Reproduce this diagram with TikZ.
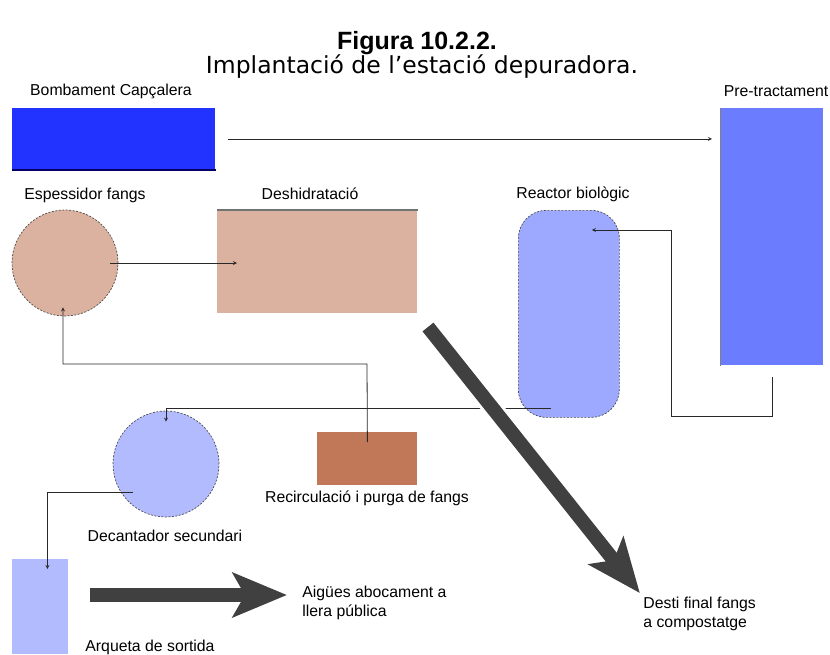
\documentclass[tikz,border=0pt]{standalone}
\usepackage{fontspec}
\setmainfont{Liberation Sans}
\newfontfamily\subtfont{DejaVu Sans}
\usetikzlibrary{arrows.meta}
\definecolor{bombblue}{RGB}{34,51,255}
\definecolor{pretblue}{RGB}{108,124,255}
\definecolor{reacblue}{RGB}{157,169,255}
\definecolor{palblue}{RGB}{179,187,255}
\definecolor{fangtan}{RGB}{219,177,159}
\definecolor{fangbrown}{RGB}{192,120,88}
\definecolor{bigarrow}{RGB}{64,64,64}
\definecolor{pipe}{RGB}{40,40,40}
\begin{document}
\begin{tikzpicture}[x=1pt,y=-1pt,>=stealth,line width=0.8pt,
  lbl/.style={inner sep=0pt,font=\fontsize{15.8}{19}\selectfont},
  tank/.style={inner sep=0pt,draw=none,anchor=north west},
  rim/.style={draw=black!70,dash pattern=on 2pt off 1.5pt,line width=0.7pt},
  pipeline/.style={->,draw=pipe,line width=0.8pt},
  bigflow/.style={draw=bigarrow,line width=14pt,-{Stealth[length=54pt,width=44pt,inset=12pt]}}]
\fill[white] (0,0) rectangle (830,654);
\useasboundingbox (0,0) rectangle (830,654);
% titol
\node[font=\fontsize{25}{30}\selectfont\bfseries,anchor=base] (title) at (417,49) {Figura 10.2.2.};
\node[font=\subtfont\fontsize{23.5}{28}\selectfont,anchor=base] (subtitle) at (422,73) {Implantació de l’estació depuradora.};
% unitats
\node[tank,fill=bombblue,minimum width=203pt,minimum height=61pt] (bomb) at (12,108) {};
\draw[blue!40!black,line width=1.5pt] (bomb.south west) -- (bomb.south east);
\node[tank,fill=pretblue,minimum width=103pt,minimum height=257pt] (pretr) at (720,108) {};
\draw[black!50,line width=0.6pt] (pretr.north west) -- (pretr.south west);
\node[circle,inner sep=0pt,fill=fangtan,rim,minimum size=106pt] (espes) at (65,263) {};
\node[tank,fill=fangtan,minimum width=200pt,minimum height=103pt] (deshid) at (217,210) {};
\draw[black!55,line width=1.2pt] (deshid.north west) -- (deshid.north east);
\node[tank,fill=reacblue,rim,rounded corners=28pt,minimum width=101pt,minimum height=207pt] (reactor) at (518,210) {};
\node[tank,fill=fangbrown,minimum width=100pt,minimum height=53pt] (recirc) at (317,432) {};
\node[circle,inner sep=0pt,fill=palblue,rim,minimum size=106pt] (decant) at (166,464) {};
\node[tank,fill=palblue,minimum width=56pt,minimum height=95pt] (arqueta) at (12,559) {};
% etiquetes
\node[lbl] (bomblbl) at (111,91) {Bombament Capçalera};
\node[lbl] (pretrlbl) at (776,91) {Pre-tractament};
\node[lbl] (espeslbl) at (85,195) {Espessidor fangs};
\node[lbl] (deshidlbl) at (310,194) {Deshidratació};
\node[lbl] (reactorlbl) at (573,194) {Reactor biològic};
\node[lbl] (recirclbl) at (367,498) {Recirculació i purga de fangs};
\node[lbl] (decantlbl) at (165,536) {Decantador secundari};
\node[lbl] (arquetalbl) at (150,647) {Arqueta de sortida};
\node[lbl,anchor=north west,align=left] (aigues) at (302,586) {Aigües abocament a\\llera pública};
\node[lbl,anchor=north west,align=left] (desti) at (643,597) {Desti final fangs\\a compostatge};
% conduccions
\coordinate (turnA) at (671,416);
\coordinate (turnB) at (367,364);
\draw[pipeline,shorten <=12pt,shorten >=8pt] (bomb.east) -- (bomb.east -| pretr.west);
\draw[pipeline,shorten <=-8pt,shorten >=-20pt] (espes.east) -- (espes.east -| deshid.west);
\draw[pipeline] ([yshift=-11pt]pretr.south) |- (turnA) |- ([xshift=23pt,yshift=-20pt]reactor.north);
\draw[pipeline] ([xshift=-18pt,yshift=9pt]reactor.south) -| ([yshift=-11pt]decant.north);
\draw[pipeline] ([yshift=-10pt]recirc.north) -- (turnB) -| ([xshift=-2pt,yshift=9pt]espes.south);
\draw[pipeline] ([xshift=-33pt,yshift=-28pt]decant.center) -| ([xshift=7pt,yshift=-10pt]arqueta.north);
% fletxes grans
\coordinate (outA) at (90,595);
\coordinate (outB) at (428,327);
\draw[bigflow,shorten >=15pt] (outA) -- (outA -| aigues.west);
\draw[white,line width=20pt,shorten <=30pt,shorten >=70pt] (outB) -- (desti.north west);
\draw[bigflow,shorten >=5pt] (outB) -- (desti.north west);
\end{tikzpicture}
\end{document}
